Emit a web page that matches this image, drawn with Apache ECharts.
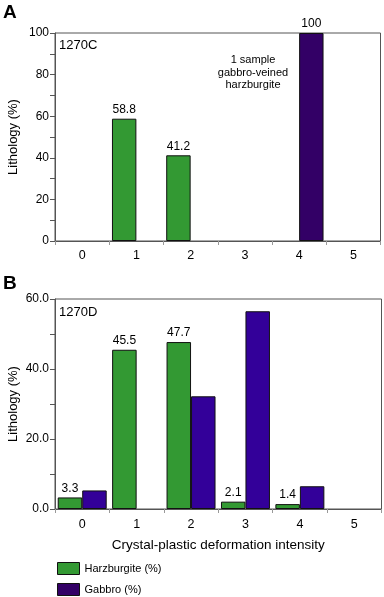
<!DOCTYPE html>
<html>
<head>
<meta charset="utf-8">
<script src="https://cdn.jsdelivr.net/npm/echarts@6/dist/echarts.min.js"></script>
<style>
html,body{margin:0;padding:0;background:#fff;}
#c{width:384px;height:597px;}
</style>
</head>
<body>
<div id="c"></div>
<script>
const categories = ['0', '1', '2', '3', '4', '5'];
const harzA = [0, 58.8, 41.2, 0, 0, 0];
const gabbroA = [0, 0, 0, 0, 100, 0];
const harzB = [3.3, 45.5, 47.7, 2.1, 1.4, 0];
const gabbroB = [5.3, 0, 32.2, 56.5, 6.5, 0];
const yTicksA = [0, 20, 40, 60, 80, 100];
const yTicksB = [0, 20, 40, 60];

const FONT = 'Liberation Sans, Arial, sans-serif';
const GREEN = '#339933';
const PURPLE_A = '#330066';
const PURPLE_B = '#330099';
const AXC = '#555';

const chart = echarts.init(document.getElementById('c'), null, {renderer: 'canvas'});

function xAxis(gridIndex, showName, margin) {
  return {
    type: 'category', gridIndex, data: categories,
    axisLine: {lineStyle: {color: AXC, width: 1}},
    axisTick: {show: true, inside: false, length: 4, lineStyle: {color: '#999'}},
    axisLabel: {inside: false, color: '#000', fontFamily: FONT, fontSize: 12.5, margin},
    name: showName ? 'Crystal-plastic deformation intensity' : '',
    nameLocation: 'middle', nameGap: 29, nameMoveOverlap: false,
    nameTextStyle: {color: '#000', fontFamily: FONT, fontSize: 13.5}
  };
}
function yAxis(gridIndex, max, interval, fmt) {
  return {
    type: 'value', gridIndex, min: 0, max, interval,
    axisLine: {show: true, lineStyle: {color: AXC, width: 1}},
    axisTick: {show: true, inside: false, length: 5, lineStyle: {color: AXC}},
    minorTick: {show: true, splitNumber: 2, length: 5, lineStyle: {color: AXC}},
    splitLine: {show: false},
    axisLabel: {inside: false, color: '#000', fontFamily: FONT, fontSize: 12, margin: 6, formatter: fmt},
    name: 'Lithology (%)', nameLocation: 'middle', nameGap: 35.5, nameRotate: 90, nameMoveOverlap: false,
    nameTextStyle: {color: '#000', fontFamily: FONT, fontSize: 13}
  };
}
function lbl(show) {
  return {
    show, position: 'top', distance: 3, color: '#000', fontFamily: FONT, fontSize: 12,
    formatter: p => (p.value === 100 ? '100' : Number(p.value).toFixed(1))
  };
}
const barStyle = c => ({color: c, borderColor: '#111', borderWidth: 1});
const nz = arr => arr.map(v => (v === 0 ? '-' : v));

chart.setOption({
  animation: false,
  backgroundColor: '#fff',
  grid: [
    {left: 55, top: 33, right: 3.5, height: 208, containLabel: false, outerBoundsMode: 'none',
      show: true, borderColor: AXC, borderWidth: 1, backgroundColor: 'transparent'},
    {left: 55, top: 299, right: 2.5, height: 210, containLabel: false, outerBoundsMode: 'none',
      show: true, borderColor: AXC, borderWidth: 1, backgroundColor: 'transparent'}
  ],
  xAxis: [xAxis(0, false, 8), xAxis(1, true, 9.5)],
  yAxis: [
    yAxis(0, yTicksA[yTicksA.length - 1], 20, v => String(v)),
    yAxis(1, yTicksB[yTicksB.length - 1], 20, v => v.toFixed(1))
  ],
  legend: {
    orient: 'vertical', left: 57, top: 562, bottom: 0, padding: 0, itemGap: 8, itemWidth: 22, itemHeight: 12,
    icon: 'rect', selectedMode: false,
    textStyle: {color: '#000', fontFamily: FONT, fontSize: 11},
    data: [
      {name: 'Harzburgite (%)', itemStyle: {color: GREEN, borderColor: '#111', borderWidth: 1}},
      {name: 'Gabbro (%)', itemStyle: {color: PURPLE_A, borderColor: '#111', borderWidth: 1}}
    ]
  },
  series: [
    {name: 'Harzburgite (%)', type: 'bar', xAxisIndex: 0, yAxisIndex: 0, data: nz(harzA),
      barGap: '0%', barCategoryGap: '10%', itemStyle: barStyle(GREEN), label: lbl(true)},
    {name: 'Gabbro (%)', type: 'bar', xAxisIndex: 0, yAxisIndex: 0, data: nz(gabbroA),
      barGap: '0%', barCategoryGap: '10%', itemStyle: barStyle(PURPLE_A), label: lbl(true)},
    {name: 'Harzburgite (%)', type: 'bar', xAxisIndex: 1, yAxisIndex: 1, data: nz(harzB),
      barGap: '0%', barCategoryGap: '10%', itemStyle: barStyle(GREEN), label: lbl(true)},
    {name: 'Gabbro (%)', type: 'bar', xAxisIndex: 1, yAxisIndex: 1, data: nz(gabbroB),
      barGap: '0%', barCategoryGap: '10%', itemStyle: barStyle(PURPLE_B), label: lbl(false)}
  ],
  graphic: [
    {type: 'text', left: 3, top: 3, style: {text: 'A', font: 'bold 19px ' + FONT, fill: '#000'}},
    {type: 'text', left: 3, top: 274, style: {text: 'B', font: 'bold 19px ' + FONT, fill: '#000'}},
    {type: 'text', left: 59, top: 39, style: {text: '1270C', font: '13px ' + FONT, fill: '#000'}},
    {type: 'text', left: 59, top: 306, style: {text: '1270D', font: '13px ' + FONT, fill: '#000'}},
    {type: 'text', x: 253, y: 54, style: {text: '1 sample\ngabbro-veined\nharzburgite', font: '11px ' + FONT, fill: '#000', align: 'center', lineHeight: 12.5}}
  ]
});
</script>
</body>
</html>
